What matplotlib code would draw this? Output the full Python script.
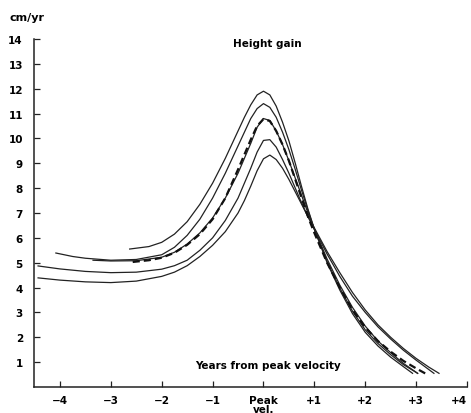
import matplotlib
matplotlib.use('Agg')
import matplotlib.pyplot as plt

# curves: years from peak velocity / cm per year
c1_x = [-2.63, -2.25, -2.0, -1.75, -1.5, -1.25, -1.0, -0.75, -0.5, -0.375, -0.25, -0.125, 0.0,
        0.125, 0.25, 0.375, 0.5, 0.625, 0.75, 0.875, 1.0, 1.25, 1.5, 1.75, 2.0, 2.25, 2.5, 2.75, 2.93]
c1_y = [5.55, 5.65, 5.82, 6.15, 6.65, 7.35, 8.2, 9.2, 10.3, 10.85, 11.35, 11.75, 11.9,
        11.75, 11.3, 10.65, 9.9, 9.0, 8.05, 7.15, 6.35, 5.0, 3.9, 2.95, 2.2, 1.65, 1.2, 0.82, 0.55]

c2_x = [-4.08, -3.75, -3.5, -3.0, -2.5, -2.0, -1.75, -1.5, -1.25, -1.0, -0.75, -0.5, -0.375, -0.25,
        -0.125, 0.0, 0.125, 0.25, 0.375, 0.5, 0.625, 0.75, 0.875, 1.0, 1.25, 1.5, 1.75, 2.0, 2.25,
        2.5, 2.75, 3.03]
c2_y = [5.39, 5.25, 5.18, 5.1, 5.13, 5.32, 5.62, 6.1, 6.75, 7.6, 8.6, 9.7, 10.25, 10.8,
        11.2, 11.4, 11.25, 10.85, 10.25, 9.55, 8.75, 7.9, 7.1, 6.35, 5.05, 3.98, 3.05, 2.3, 1.75,
        1.3, 0.9, 0.55]

c3_x = [-3.35, -3.0, -2.5, -2.0, -1.75, -1.5, -1.25, -1.0, -0.75, -0.5, -0.375, -0.25, -0.125,
        0.0, 0.125, 0.25, 0.375, 0.5, 0.625, 0.75, 0.875, 1.0, 1.25, 1.5, 1.75, 2.0, 2.25, 2.5,
        2.75, 3.03]
c3_y = [5.1, 5.07, 5.08, 5.22, 5.42, 5.75, 6.2, 6.8, 7.6, 8.6, 9.2, 9.8, 10.45,
        10.8, 10.72, 10.3, 9.75, 9.1, 8.4, 7.7, 7.0, 6.35, 5.15, 4.1, 3.2, 2.45, 1.85, 1.38,
        0.95, 0.55]

dash_x = [-2.57, -2.25, -2.0, -1.75, -1.5, -1.25, -1.0, -0.75, -0.5, -0.375, -0.25, -0.125, 0.0,
          0.125, 0.25, 0.375, 0.5, 0.625, 0.75, 0.875, 1.0, 1.25, 1.5, 1.75, 2.0, 2.25, 2.5, 2.75,
          3.0, 3.22]
dash_y = [5.03, 5.1, 5.2, 5.4, 5.72, 6.15, 6.75, 7.6, 8.75, 9.35, 9.95, 10.5, 10.78,
          10.7, 10.3, 9.75, 9.1, 8.35, 7.6, 6.85, 6.2, 5.0, 4.0, 3.1, 2.4, 1.85, 1.42, 1.05,
          0.75, 0.5]

c5_x = [-4.43, -4.0, -3.5, -3.0, -2.5, -2.0, -1.75, -1.5, -1.25, -1.0, -0.75, -0.5, -0.375, -0.25,
        -0.125, 0.0, 0.125, 0.25, 0.375, 0.5, 0.625, 0.75, 0.875, 1.0, 1.25, 1.5, 1.75, 2.0, 2.25,
        2.5, 2.75, 3.0, 3.35]
c5_y = [4.87, 4.75, 4.65, 4.6, 4.62, 4.74, 4.88, 5.1, 5.5, 6.0, 6.7, 7.6, 8.2, 8.8,
        9.45, 9.92, 9.95, 9.65, 9.15, 8.6, 8.0, 7.4, 6.85, 6.35, 5.35, 4.45, 3.65, 3.0, 2.42,
        1.93, 1.48, 1.08, 0.55]

c6_x = [-4.43, -4.0, -3.5, -3.0, -2.5, -2.0, -1.75, -1.5, -1.25, -1.0, -0.75, -0.5, -0.375, -0.25,
        -0.125, 0.0, 0.125, 0.25, 0.375, 0.5, 0.625, 0.75, 0.875, 1.0, 1.25, 1.5, 1.75, 2.0, 2.25,
        2.5, 2.75, 3.0, 3.25, 3.45]
c6_y = [4.39, 4.3, 4.23, 4.2, 4.26, 4.45, 4.62, 4.88, 5.25, 5.7, 6.25, 7.0, 7.5, 8.08,
        8.7, 9.18, 9.33, 9.15, 8.8, 8.35, 7.85, 7.35, 6.85, 6.4, 5.45, 4.6, 3.8, 3.1, 2.5,
        2.0, 1.55, 1.15, 0.8, 0.55]

x_ticks = [-4, -3, -2, -1, 0, 1, 2, 3, 4]
x_labels = ['\u22124', '\u22123', '\u22122', '\u22121', 'Peak\nvel.', '+1', '+2', '+3', '+4']
y_ticks = list(range(1, 15))

fig = plt.figure(figsize=(4.71, 4.14), dpi=100)
ax = fig.add_axes([0.0722, 0.0628, 0.9193, 0.8406])

for xs, ys in [(c1_x, c1_y), (c2_x, c2_y), (c3_x, c3_y), (c5_x, c5_y), (c6_x, c6_y)]:
    ax.plot(xs, ys, color='#222222', lw=0.9, solid_joinstyle='round')
ax.plot(dash_x, dash_y, color='#111111', lw=1.6, dashes=(3.2, 1.8))

ax.set_xlim(-4.51, 4.0)
ax.set_ylim(0, 14)
ax.spines['top'].set_visible(False)
ax.spines['right'].set_visible(False)
for s in ['left', 'bottom']:
    ax.spines[s].set_linewidth(1.1)
    ax.spines[s].set_color('#222222')

ax.set_xticks(x_ticks)
ax.set_xticklabels(x_labels, fontweight='bold', fontsize=7.5, linespacing=0.78)
ax.get_xticklabels()[-1].set_ha('right')
ax.set_yticks(y_ticks)
ax.set_yticklabels([str(v) for v in y_ticks], fontweight='bold', fontsize=7.5)
ax.tick_params(axis='both', direction='in', length=4, width=0.9, color='#222222')
ax.tick_params(axis='y', pad=8)
ax.tick_params(axis='x', pad=6)

ax.text(0.08, 13.84, 'Height gain', ha='center', va='center', fontweight='bold', fontsize=7.5)
ax.text(0.08, 0.88, 'Years from peak velocity', ha='center', va='center',
        fontweight='bold', fontsize=7.5)
fig.text(0.021, 0.956, 'cm/yr', ha='left', va='center', fontweight='bold', fontsize=8)

fig.savefig('out.png', dpi=100)
